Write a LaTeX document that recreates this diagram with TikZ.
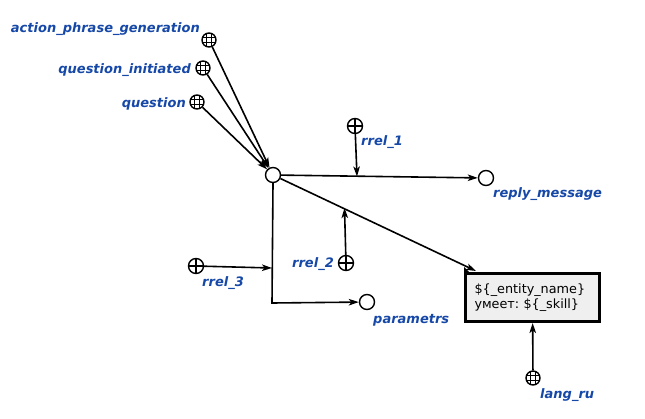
\documentclass[tikz,border=0pt]{standalone}
\usepackage{fontspec}
\setmainfont{DejaVu Sans}
\usetikzlibrary{arrows.meta,calc}
\frenchspacing
\definecolor{lblue}{RGB}{22,72,168}
\definecolor{boxfill}{RGB}{239,239,239}
\tikzset{
  every picture/.style={x=1pt,y=-1pt},
  edge/.style={line width=1.6pt,-{Stealth[length=10pt,width=6.5pt,inset=2.5pt]}},
  nodec/.style={circle,draw,line width=1.4pt,minimum size=15pt,inner sep=0pt,fill=white},
  gridc/.style={nodec,minimum size=14pt,path picture={
      \draw[line width=0.9pt] ($(path picture bounding box.center)+(-2.2pt,-8pt)$) -- ++(0,16pt);
      \draw[line width=0.9pt] ($(path picture bounding box.center)+(2.2pt,-8pt)$) -- ++(0,16pt);
      \draw[line width=0.9pt] ($(path picture bounding box.center)+(-8pt,-2.2pt)$) -- ++(16pt,0);
      \draw[line width=0.9pt] ($(path picture bounding box.center)+(-8pt,2.2pt)$) -- ++(16pt,0);}},
  plusc/.style={nodec,minimum size=15pt,path picture={
      \draw[line width=1.3pt] ($(path picture bounding box.center)+(0,-8pt)$) -- ++(0,16pt);
      \draw[line width=1.3pt] ($(path picture bounding box.center)+(-8pt,0)$) -- ++(16pt,0);}},
  lbl/.style={text=lblue,font=\fontsize{13}{15}\selectfont\bfseries\itshape,inner sep=0pt},
  txtbox/.style={draw,line width=3pt,fill=boxfill,minimum width=134pt,minimum height=48pt,
     align=left,text width=116pt,inner sep=0pt,font=\fontsize{12.8}{15}\selectfont},
}
\begin{document}
\begin{tikzpicture}
\useasboundingbox (0,0) rectangle (645,418);
% nodes
\node[gridc] (apg) at (209,40) {};
\node[gridc] (qi) at (203,68) {};
\node[gridc] (q) at (197,102) {};
\node[nodec] (c) at (273,175) {};
\node[plusc] (r1) at (355,126) {};
\node[nodec] (rm) at (486,178) {};
\node[plusc] (r2) at (346,263) {};
\node[plusc] (r3) at (196,266) {};
\node[nodec] (par) at (367,302) {};
\node[txtbox] (box) at (532.5,297.5) {\$\{\_entity\_name\}\\умеет: \$\{\_skill\}};
\node[gridc] (lr) at (533,378) {};
% labels
\node[lbl,anchor=base east] (lapg) at (200,32) {action\_phrase\_generation};
\node[lbl,anchor=base east] (lqi) at (191,73) {question\_initiated};
\node[lbl,anchor=base east] (lq) at (186,107) {question};
\node[lbl,anchor=base west] (lr1) at (361,145) {rrel\_1};
\node[lbl,anchor=base west] (lrm) at (493,197) {reply\_message};
\node[lbl,anchor=base east] (lr2) at (334,267) {rrel\_2};
\node[lbl,anchor=base west] (lr3) at (202,286) {rrel\_3};
\node[lbl,anchor=base west] (lpar) at (373,323) {parametrs};
\node[lbl,anchor=base west] (llr) at (540,398) {lang\_ru};
% small corner mark on box
\fill (box.north west) -- ++(5pt,0) -- ++(-5pt,5pt) -- cycle;
% coordinates
\coordinate (m1) at (357,176.5);
\coordinate (m2) at (344.5,208);
\coordinate (bend) at (272,303);
\coordinate (m3) at (272,268);
\coordinate (bt) at (476,271);
% edges
\draw[edge] (apg) -- (c);
\draw[edge] (qi) -- (c);
\draw[edge] (q) -- (c);
\draw[edge] (c) -- (rm);
\draw[edge] (r1) -- (m1);
\draw[edge] (c) -- (bt);
\draw[edge] (r2) -- (m2);
\draw[edge] (c.south) -- (bend) -- (par);
\draw[edge] (r3) -- (m3);
\draw[edge] (lr) -- (box);
\end{tikzpicture}
\end{document}
